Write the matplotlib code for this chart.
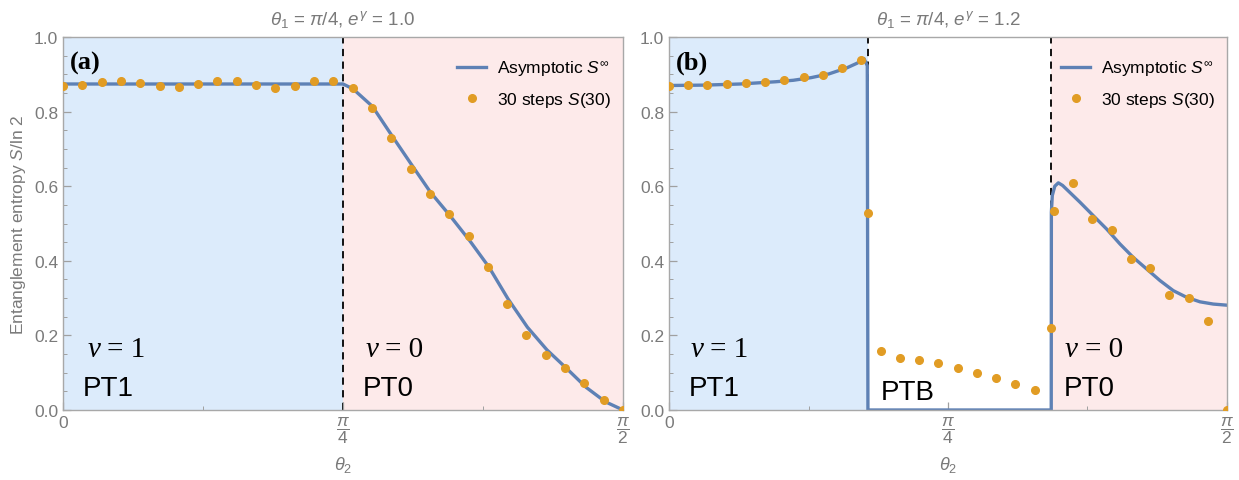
import numpy as np
import matplotlib
matplotlib.use("Agg")
import matplotlib.pyplot as plt
from matplotlib.ticker import FixedLocator, MultipleLocator

plt.rcParams['font.family'] = ['Liberation Sans', 'DejaVu Sans']
plt.rcParams['mathtext.fontset'] = 'custom'
plt.rcParams['mathtext.rm'] = 'Liberation Sans'
plt.rcParams['mathtext.it'] = 'Liberation Sans:italic'
plt.rcParams['mathtext.bf'] = 'Liberation Sans:bold'

# ---- data ----
# 30-step points sit on theta2 = k*pi/58, k = 0..29
k_grid = np.arange(30)
theta_pts = k_grid * np.pi / 58

# panel (a): e^gamma = 1.0
s30_a = [0.868, 0.871, 0.879, 0.881, 0.876, 0.869, 0.867, 0.874, 0.881, 0.881,
         0.871, 0.864, 0.869, 0.881, 0.883, 0.862, 0.809, 0.729, 0.646, 0.579,
         0.526, 0.466, 0.383, 0.285, 0.202, 0.147, 0.112, 0.072, 0.027, 0.001]
curve_a_theta = [0.0, 0.7854, 0.8134, 0.8679, 0.9229, 0.9761, 1.0306, 1.0855,
                 1.1408, 1.1949, 1.2482, 1.3026, 1.3576, 1.4120, 1.4670, 1.5214, 1.5708]
curve_a_val = [0.874, 0.874, 0.861, 0.814, 0.735, 0.660, 0.584, 0.521,
               0.454, 0.383, 0.298, 0.222, 0.161, 0.112, 0.061, 0.022, 0.0]

# panel (b): e^gamma = 1.2
s30_b = [0.869, 0.871, 0.871, 0.874, 0.876, 0.879, 0.885, 0.892, 0.899, 0.916,
         0.937, 0.159, 0.140, 0.135, 0.126, 0.113, 0.100, 0.085, 0.069, 0.054,
         0.533, 0.608, 0.512, 0.483, 0.404, 0.381, 0.309, 0.300, 0.239, 0.0]
extra_theta_b = [0.5602, 1.0745]
extra_val_b = [0.529, 0.219]
curve_b_theta = [0.0, 0.10, 0.20, 0.30, 0.35, 0.40, 0.45, 0.50, 0.53, 0.549, 0.5582,
                 0.5590, 0.5600, 1.0760, 1.0764, 1.0790, 1.0860, 1.0960, 1.1080,
                 1.1570, 1.1944, 1.2321, 1.2696, 1.3070, 1.3447, 1.3822, 1.4196,
                 1.4574, 1.4948, 1.5322, 1.5708]
curve_b_val = [0.870, 0.871, 0.874, 0.880, 0.884, 0.891, 0.901, 0.917, 0.930, 0.942, 0.923,
               0.500, 0.0, 0.0, 0.530, 0.575, 0.600, 0.609, 0.602,
               0.557, 0.521, 0.485, 0.445, 0.409, 0.378, 0.347, 0.320,
               0.302, 0.290, 0.284, 0.281]

bounds_a = [np.pi / 4]
bounds_b = [0.5594, 1.0754]

line_c = '#5E81B5'
dot_c = '#E19C24'
blue_bg = '#DCEBFB'
pink_bg = '#FDEAEA'
gray = '#7a7a7a'

fig = plt.figure(figsize=(12.39, 4.81), dpi=100)
axa = fig.add_axes([63 / 1239, 70 / 481, 560 / 1239, 373 / 481])
axb = fig.add_axes([669 / 1239, 70 / 481, 558 / 1239, 373 / 481])


def style(ax):
    ax.set_xlim(0, np.pi / 2)
    ax.set_ylim(0, 1.0)
    ax.xaxis.set_major_locator(FixedLocator([0, np.pi / 4, np.pi / 2]))
    ax.set_xticklabels(['0', r'$\dfrac{\pi}{4}$', r'$\dfrac{\pi}{2}$'])
    ax.xaxis.set_minor_locator(FixedLocator([np.pi / 8, 3 * np.pi / 8]))
    ax.yaxis.set_major_locator(MultipleLocator(0.2))
    ax.yaxis.set_minor_locator(MultipleLocator(0.05))
    ax.yaxis.set_major_formatter(matplotlib.ticker.FormatStrFormatter('%.1f'))
    ax.tick_params(which='both', direction='in', colors='#a0a0a0', labelcolor=gray,
                   labelsize=12.5)
    ax.tick_params(which='major', length=6, width=0.9)
    ax.tick_params(which='minor', length=3, width=0.7)
    for s in ax.spines.values():
        s.set_color('#a8a8a8')
        s.set_linewidth(1.0)
    ax.set_xlabel(r'$\theta_2$', color=gray, fontsize=13, labelpad=6)


def nu_label(ax, x, y, val):
    ax.text(x, y, '\u03bd', fontfamily='Liberation Serif', fontstyle='italic',
            fontsize=21, va='baseline')
    ax.annotate('= ' + val, (x, y), xytext=(14, 0), textcoords='offset points',
                fontfamily='Liberation Serif', fontsize=21, va='baseline')


def legend(ax):
    ax.legend(loc='upper right', bbox_to_anchor=(1.0, 0.976), frameon=False,
              fontsize=12.5, handlelength=1.7, labelspacing=0.7,
              borderaxespad=0.3, handletextpad=0.6)


# panel (a)
ax = axa
style(ax)
ax.axvspan(0, bounds_a[0], color=blue_bg, lw=0, zorder=0)
ax.axvspan(bounds_a[0], np.pi / 2, color=pink_bg, lw=0, zorder=0)
ax.axvline(bounds_a[0], color='black', lw=1.3, ls=(0, (4, 3)), zorder=1)
ax.plot(curve_a_theta, curve_a_val, color=line_c, lw=2.4, label=r'Asymptotic $S^{\infty}$', zorder=2)
ax.plot(theta_pts, s30_a, 'o', color=dot_c, ms=5.5, label=r'30 steps $S$(30)', zorder=3)
ax.set_title(r'$\theta_1$ = $\pi$/4, $e^{\gamma}$ = 1.0', color=gray, fontsize=13.5, pad=9)
ax.set_ylabel(r'Entanglement entropy $S$/ln 2', color=gray, fontsize=12.5, labelpad=4)
ax.text(0.018, 0.915, '(a)', fontfamily='Liberation Serif', fontweight='bold', fontsize=19)
nu_label(ax, 0.07, 0.145, '1')
ax.text(0.055, 0.04, 'PT1', fontsize=20)
nu_label(ax, 0.85, 0.145, '0')
ax.text(0.84, 0.04, 'PT0', fontsize=20)
legend(ax)

# panel (b)
ax = axb
style(ax)
ax.axvspan(0, bounds_b[0], color=blue_bg, lw=0, zorder=0)
ax.axvspan(bounds_b[1], np.pi / 2, color=pink_bg, lw=0, zorder=0)
for b in bounds_b:
    ax.axvline(b, color='black', lw=1.3, ls=(0, (4, 3)), zorder=1)
ax.plot(curve_b_theta, curve_b_val, color=line_c, lw=2.4, label=r'Asymptotic $S^{\infty}$', zorder=2)
ax.plot(list(theta_pts) + extra_theta_b, s30_b + extra_val_b, 'o', color=dot_c, ms=5.5,
        label=r'30 steps $S$(30)', zorder=3)
ax.set_title(r'$\theta_1$ = $\pi$/4, $e^{\gamma}$ = 1.2', color=gray, fontsize=13.5, pad=9)
ax.text(0.018, 0.915, '(b)', fontfamily='Liberation Serif', fontweight='bold', fontsize=19)
nu_label(ax, 0.06, 0.145, '1')
ax.text(0.055, 0.04, 'PT1', fontsize=20)
ax.text(0.595, 0.03, 'PTB', fontsize=20)
nu_label(ax, 1.115, 0.145, '0')
ax.text(1.11, 0.04, 'PT0', fontsize=20)
legend(ax)

fig.savefig('out.png', dpi=100)
